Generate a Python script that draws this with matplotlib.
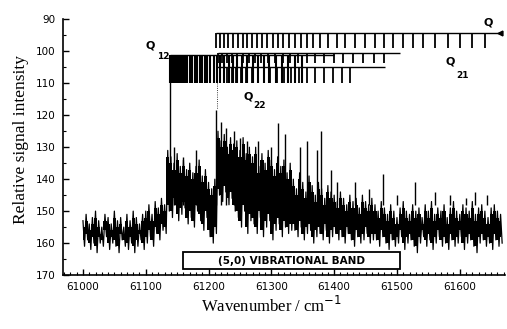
import matplotlib

matplotlib.use("Agg")
import matplotlib.pyplot as plt
import numpy as np
from matplotlib.patches import Rectangle
from matplotlib.ticker import MultipleLocator

# spectrum envelope, one bin every 5 cm-1 starting at 61000 (upper / lower edge)
sig_hi = [
    153, 151, 154, 152, 150, 153, 155, 151, 152, 154,
    150, 153, 152, 155, 151, 153, 150, 152, 154, 151,
    150, 148, 151, 147, 149, 146, 148, 131, 133, 135,
    132, 136, 134, 137, 135, 138, 136, 134, 139, 137,
    141, 143, 140, 125, 128, 126, 130, 127, 129, 128,
    131, 127, 132, 130, 133, 130, 136, 132, 135, 131,
    134, 137, 133, 136, 134, 138, 135, 140, 143, 138,
    141, 144, 139, 142, 145, 141, 143, 146, 142, 144,
    145, 147, 144, 146, 148, 145, 147, 146, 149, 145,
    147, 148, 146, 148, 150, 147, 149, 151, 148, 150,
    152, 149, 147, 150, 151, 148, 150, 149, 152, 148,
    150, 147, 151, 149, 150, 148, 152, 149, 147, 150,
    151, 148, 149, 150, 147, 151, 149, 148, 150, 152,
    149, 148, 150, 151,
]
sig_lo = [
    161, 159, 162, 160, 163, 160, 161, 158, 162, 160,
    161, 163, 159, 161, 162, 160, 163, 161, 159, 162,
    160, 158, 161, 157, 159, 156, 157, 150, 152, 148,
    153, 151, 149, 154, 152, 155, 150, 153, 156, 152,
    158, 160, 157, 145, 147, 144, 148, 146, 150, 152,
    155, 150, 157, 153, 154, 157, 152, 158, 155, 153,
    159, 156, 154, 158, 155, 157, 156, 156, 158, 155,
    159, 157, 156, 160, 158, 157, 159, 156, 160, 158,
    157, 159, 158, 160, 157, 159, 161, 158, 160, 159,
    157, 160, 159, 159, 161, 158, 160, 162, 159, 161,
    160, 158, 162, 160, 159, 161, 163, 160, 158, 161,
    159, 162, 160, 158, 161, 160, 162, 159, 161, 160,
    158, 162, 160, 159, 161, 163, 160, 159, 161, 160,
    162, 159, 161, 160,
]

# sharp lines standing out of the noise
spike_wn = [61145, 61160, 61180, 61212, 61220, 61228, 61240, 61250, 61262, 61279,
            61300, 61311, 61322, 61345, 61356, 61372, 61379, 61395, 61404, 61433,
            61455, 61478, 61500, 61529, 61560, 61585, 61610, 61625, 61643]
spike_top = [130, 133, 131, 118.5, 122, 124, 125, 127, 128, 128,
             130, 122.5, 126, 130, 128, 131, 125, 137, 141, 141,
             143, 138.5, 145, 141, 144, 145, 146, 144, 145]

# rotational line assignments (positions in cm-1)
q1_lines = [61212, 61218, 61225, 61231, 61239, 61247, 61255, 61261, 61269, 61277,
            61285, 61293, 61303, 61311, 61318, 61328, 61338, 61347, 61357, 61366,
            61377, 61390, 61404, 61417, 61433, 61449, 61465, 61479, 61494, 61510,
            61525, 61541, 61561, 61581, 61600, 61619, 61640]
q21_lines = [61215, 61222, 61229, 61237, 61246, 61255, 61264, 61274, 61284, 61295,
             61306, 61318, 61330, 61343, 61356, 61370, 61384, 61399, 61414, 61430,
             61446, 61463, 61480]
q12_lines = [61138, 61141, 61144, 61147, 61150, 61153, 61156, 61159, 61162, 61166,
             61170, 61174, 61178, 61182, 61186, 61190, 61194, 61198, 61203, 61208,
             61213, 61219, 61225, 61232, 61239, 61246, 61254, 61262, 61270, 61279,
             61288, 61297, 61307, 61317, 61327, 61338, 61349]
q22_lines = [61213, 61218, 61224, 61230, 61237, 61244, 61252, 61260, 61269, 61278,
             61288, 61298, 61309, 61320, 61332, 61344, 61357, 61370, 61384, 61398,
             61413, 61425]

x_ticks = [61000, 61100, 61200, 61300, 61400, 61500, 61600]
y_ticks = [90, 100, 110, 120, 130, 140, 150, 160, 170]

SANS = "DejaVu Sans"
SERIF = "Liberation Serif"


def comb(ax, lines, y_bar, y_tip, x_end, lw=1.1):
    ax.hlines(y_bar, lines[0], x_end, color="black", lw=1.0)
    ax.vlines(lines, y_bar, y_tip, color="black", lw=lw)


def main() -> None:
    fig = plt.figure(figsize=(5.07, 3.29), dpi=100)
    ax = fig.add_axes([0.124, 0.164, 0.872, 0.777])

    wn = np.arange(61000, 61000 + 5 * len(sig_hi), 5)
    lo = np.array(sig_lo)
    hi = np.array(sig_hi)
    # dense noisy trace: solid core plus a zig-zag between the edges
    ax.fill_between(wn, hi + 2, lo - 2, step="mid", color="black", lw=0)
    xs = np.column_stack([wn, wn + 2.5]).ravel()
    ys = np.column_stack([hi, lo]).ravel()
    ax.plot(xs, ys, color="black", lw=0.9)
    ax.vlines(spike_wn, spike_top, 148, color="black", lw=1.0)

    # line assignment combs
    comb(ax, q1_lines, 94.2, 98.9, 61668, lw=1.3)
    ax.plot([61664], [94.2], marker="<", color="black", ms=3.5)
    comb(ax, q21_lines, 100.6, 103.6, 61505, lw=1.3)
    comb(ax, q12_lines, 101.1, 110.0, 61400, lw=1.5)
    comb(ax, q22_lines, 104.9, 110.0, 61481, lw=1.3)
    ax.vlines(q12_lines[0], 101.1, 136, color="black", lw=1.0)
    ax.vlines(q22_lines[0], 110, 118, color="black", lw=0.6, linestyles=":")

    lab = dict(family=SANS, weight="bold", color="black")
    ax.text(61107, 98.2, "Q", fontsize=8, ha="center", va="center", **lab)
    ax.text(61128, 101.6, "12", fontsize=6.5, ha="center", va="center", **lab)
    ax.text(61263, 114.2, "Q", fontsize=8, ha="center", va="center", **lab)
    ax.text(61281, 116.9, "22", fontsize=6.5, ha="center", va="center", **lab)
    ax.text(61584, 103.3, "Q", fontsize=8, ha="center", va="center", **lab)
    ax.text(61604, 107.4, "21", fontsize=6.5, ha="center", va="center", **lab)
    ax.text(61645, 90.9, "Q", fontsize=8, ha="center", va="center", **lab)

    ax.add_patch(Rectangle((61159, 162.9), 346, 5.1, facecolor="white",
                           edgecolor="black", lw=1.3, zorder=5))
    ax.text(61332, 165.5, "(5,0) VIBRATIONAL BAND", fontsize=7.5, ha="center",
            va="center", zorder=6, **lab)

    ax.set_xlim(60968, 61672)
    ax.set_ylim(170, 90)
    ax.set_xticks(x_ticks)
    ax.set_yticks(y_ticks)
    ax.xaxis.set_minor_locator(MultipleLocator(10))
    ax.yaxis.set_minor_locator(MultipleLocator(5))
    ax.tick_params(which="major", direction="in", length=4, width=1.0,
                   labelsize=7.5, pad=5)
    ax.tick_params(which="minor", direction="in", length=2, width=0.8)
    for t in ax.get_xticklabels() + ax.get_yticklabels():
        t.set_family(SANS)
    for s in ("top", "right"):
        ax.spines[s].set_visible(False)
    for s in ("left", "bottom"):
        ax.spines[s].set_linewidth(1.2)

    fig.text(272 / 507, 1 - 306 / 329, "Wavenumber / cm$^{-1}$", family=SERIF,
             fontsize=12, ha="center", va="center")
    fig.text(21 / 507, 1 - 139 / 329, "Relative signal intensity", family=SERIF,
             fontsize=12.5, rotation=90, ha="center", va="center")

    fig.savefig("out.png", dpi=100)
    plt.close(fig)


if __name__ == "__main__":
    main()
